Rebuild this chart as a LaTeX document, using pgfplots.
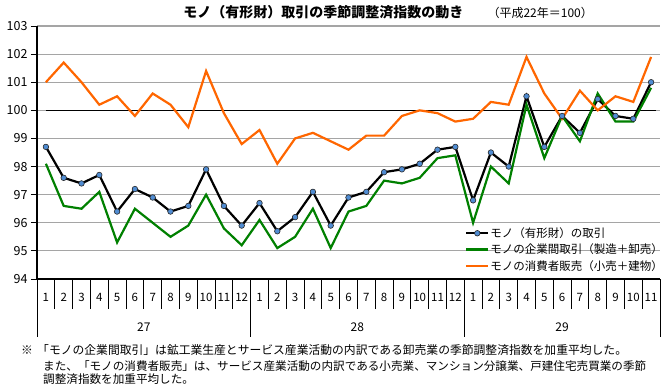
\documentclass[border=0pt]{standalone}
\usepackage{fontspec}
\setmainfont{Noto Sans CJK JP}
\usepackage{pgfplots}
\usepackage{pgfplotstable}
\pgfplotsset{compat=1.18}
\definecolor{myblue}{RGB}{80,140,210}
\definecolor{mygreen}{RGB}{0,128,0}
\definecolor{myorange}{RGB}{255,102,0}
\definecolor{gridgray}{RGB}{165,165,165}

\pgfplotstableread{
x black green orange
0 98.7 98.1 101.0
1 97.6 96.6 101.7
2 97.4 96.5 101.0
3 97.7 97.1 100.2
4 96.4 95.3 100.5
5 97.2 96.5 99.8
6 96.9 96.0 100.6
7 96.4 95.5 100.2
8 96.6 95.9 99.4
9 97.9 97.0 101.4
10 96.6 95.8 99.9
11 95.9 95.2 98.8
12 96.7 96.1 99.3
13 95.7 95.1 98.1
14 96.2 95.5 99.0
15 97.1 96.5 99.2
16 95.9 95.1 98.9
17 96.9 96.4 98.6
18 97.1 96.6 99.1
19 97.8 97.5 99.1
20 97.9 97.4 99.8
21 98.1 97.6 100.0
22 98.6 98.3 99.9
23 98.7 98.4 99.6
24 96.8 96.0 99.7
25 98.5 98.0 100.3
26 98.0 97.4 100.2
27 100.5 100.2 101.9
28 98.7 98.3 100.6
29 99.8 99.8 99.7
30 99.2 98.9 100.7
31 100.4 100.6 100.0
32 99.8 99.6 100.5
33 99.7 99.6 100.3
34 101.0 100.8 101.9
}\datatable

\begin{document}
\begin{tikzpicture}[x=1pt,y=1pt]
\path[use as bounding box] (0,0) rectangle (670,386);
\begin{axis}[
  at={(37pt,107pt)}, anchor=south west,
  scale only axis, width=623pt, height=253pt,
  xmin=-0.5, xmax=34.5, ymin=94, ymax=103,
  clip=false,
  axis x line*=bottom, axis y line*=left,
  axis line style={black, line width=1.3pt},
  x axis line style={line width=1.8pt},
  ytick={94,...,103},
  ymajorgrids, major grid style={gridgray, line width=1.2pt},
  tick align=outside,
  major tick length=6pt,
  minor tick length=30pt,
  xtick={0,...,34},
  xticklabels={1,2,3,4,5,6,7,8,9,10,11,12,1,2,3,4,5,6,7,8,9,10,11,12,1,2,3,4,5,6,7,8,9,10,11},
  minor xtick={-0.5,0.5,...,34.5},
  major x tick style={draw=none},
  minor x tick style={draw=black, line width=0.9pt},
  y tick style={draw=black, line width=1pt},
  /pgf/number format/assume math mode=true,
  yticklabel style={font=\fontsize{12.5}{14}\selectfont, anchor=east, xshift=0pt},
  xticklabel style={font=\fontsize{11.5}{13}\selectfont, anchor=center, yshift=-12pt},
  legend style={draw=none, fill=none, at={(0.687,0.208)}, anchor=north west,
    font=\fontsize{11.5}{13}\selectfont, inner sep=0pt, row sep=3pt,
    nodes={inner sep=1pt}},
  legend cell align=left,
  legend image code/.code={\draw[mark repeat=2,mark phase=2,#1] plot coordinates {(0pt,0pt) (11pt,0pt) (22pt,0pt)};},
]
\addplot[black, line width=1.2pt, forget plot] coordinates {(0,100) (34.3,100)};
\addplot[black, line width=2.2pt, mark=*, mark size=2.8pt,
  mark options={fill=myblue, draw=black!85, line width=0.6pt}] table[x=x, y=black] {\datatable};
\addplot[mygreen, line width=2.2pt] table[x=x, y=green] {\datatable};
\addplot[myorange, line width=2.2pt] table[x=x, y=orange] {\datatable};
\legend{モノ（有形財）の取引, モノの企業間取引（製造＋卸売）, モノの消費者販売（小売＋建物）}
\draw[black, line width=0.9pt] (axis cs:-0.5,94) -- ([yshift=-58pt]axis cs:-0.5,94);
\draw[black, line width=0.9pt] (axis cs:11.5,94) -- ([yshift=-58pt]axis cs:11.5,94);
\draw[black, line width=0.9pt] (axis cs:23.5,94) -- ([yshift=-58pt]axis cs:23.5,94);
\draw[black, line width=0.9pt] (axis cs:34.5,94) -- ([yshift=-58pt]axis cs:34.5,94);
\node[font=\fontsize{12}{14}\selectfont] at (axis cs:5.5,94) [yshift=-48pt] {27};
\node[font=\fontsize{12}{14}\selectfont] at (axis cs:17.5,94) [yshift=-48pt] {28};
\node[font=\fontsize{12}{14}\selectfont] at (axis cs:29,94) [yshift=-48pt] {29};
\end{axis}
\node[anchor=base east, font=\bfseries\fontsize{14}{16}\selectfont] at (467,368) {モノ（有形財）取引の季節調整済指数の動き};
\node[anchor=base west, font=\fontsize{12}{14}\selectfont] at (484,368) {（平成22年＝100）};
\node[anchor=base west, inner sep=0pt, font=\fontsize{11.8}{14}\selectfont] at (21,31) {※};
\node[anchor=base west, inner sep=0pt, font=\fontsize{11.8}{14}\selectfont] at (37,31) {「モノの企業間取引」は鉱工業生産とサービス産業活動の内訳である卸売業の季節調整済指数を加重平均した。};
\node[anchor=base west, inner sep=0pt, font=\fontsize{11.6}{14}\selectfont] at (43,16) {また、「モノの消費者販売」は、サービス産業活動の内訳である小売業、マンション分譲業、戸建住宅売買業の季節};
\node[anchor=base west, inner sep=0pt, font=\fontsize{11.6}{14}\selectfont] at (43,2) {調整済指数を加重平均した。};
\end{tikzpicture}
\end{document}
